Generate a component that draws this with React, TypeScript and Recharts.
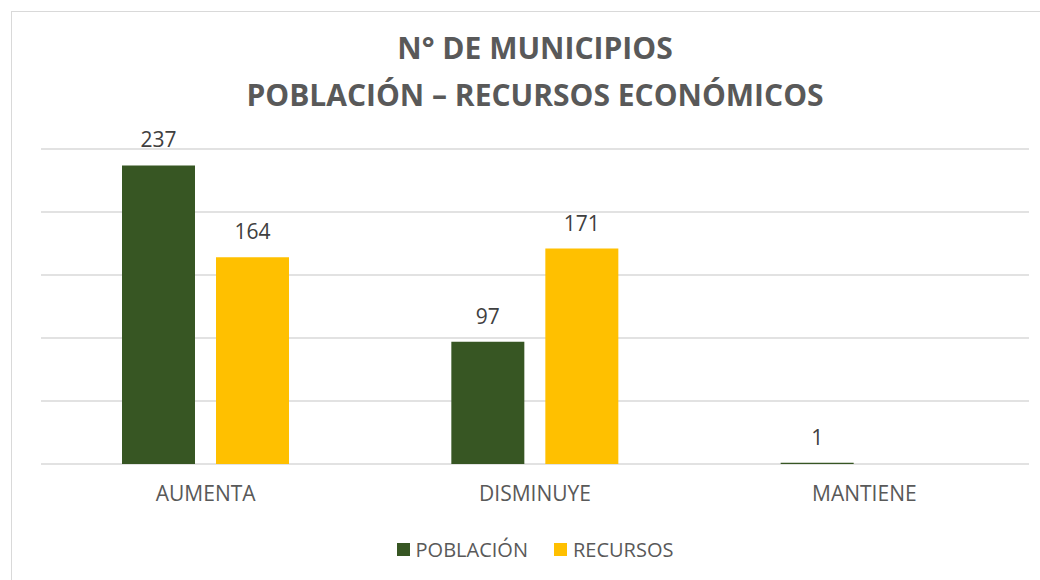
import React from 'react';
import { BarChart, Bar, XAxis, YAxis, CartesianGrid, LabelList, Legend } from 'recharts';

const categories = ['AUMENTA', 'DISMINUYE', 'MANTIENE'];
const poblacion: (number | null)[] = [237, 97, 1];
const recursos: (number | null)[] = [164, 171, null];
const yTicks = [0, 50, 100, 150, 200, 250];

const data = categories.map((c, i) => ({ cat: c, poblacion: poblacion[i], recursos: recursos[i] }));

const GREEN = '#375623';
const YELLOW = '#FFC000';
const FONT = '"Open Sans", "Liberation Sans", sans-serif';

const LegendContent = (props: any) => {
  const { payload } = props;
  return (
    <div style={{ display: 'flex', justifyContent: 'center', alignItems: 'center', height: 24, fontFamily: FONT, fontSize: 20, color: '#595959' }}>
      {(payload || []).map((p: any, i: number) => (
        <div key={i} style={{ display: 'flex', alignItems: 'center', marginLeft: i === 0 ? 0 : 26 }}>
          <div style={{ width: 13, height: 13, background: p.color, marginRight: 6 }} />
          <span>{p.value}</span>
        </div>
      ))}
    </div>
  );
};

export default function App() {
  return (
    <div style={{ position: 'absolute', left: 0, top: 0, width: 1040, height: 580, background: '#fff', overflow: 'hidden' }}>
      <div style={{ position: 'absolute', left: 11, top: 11, width: 1100, height: 640, border: '1px solid #d9d9d9' }} />
      <div style={{ position: 'absolute', left: 41, width: 988, top: 24, textAlign: 'center', fontFamily: FONT, fontWeight: 700, fontSize: 30, lineHeight: '47px', color: '#595959' }}>
        <div>N° DE MUNICIPIOS</div>
        <div>POBLACIÓN – RECURSOS ECONÓMICOS</div>
      </div>
      <div style={{ position: 'absolute', left: 0, top: 0 }}>
        <BarChart width={1040} height={580} data={data} margin={{ top: 149, right: 11, left: 41, bottom: 19 }} barSize={73} barGap={21}>
          <CartesianGrid horizontal vertical={false} stroke="#d9d9d9" strokeWidth={1.3} />
          <YAxis hide domain={[0, 250]} ticks={yTicks} />
          <XAxis dataKey="cat" axisLine={false} tickLine={false} tickSize={0} tickMargin={22} height={73}
            tick={{ fill: '#595959', fontSize: 21, fontFamily: FONT }} interval={0} />
          <Legend verticalAlign="bottom" align="center" content={<LegendContent />} />
          <Bar dataKey="poblacion" name="POBLACIÓN" fill={GREEN} isAnimationActive={false}>
            <LabelList dataKey="poblacion" position="top" offset={18} fill="#404040" fontSize={21} fontFamily={FONT} />
          </Bar>
          <Bar dataKey="recursos" name="RECURSOS" fill={YELLOW} isAnimationActive={false}>
            <LabelList dataKey="recursos" position="top" offset={18} fill="#404040" fontSize={21} fontFamily={FONT} />
          </Bar>
        </BarChart>
      </div>
    </div>
  );
}
